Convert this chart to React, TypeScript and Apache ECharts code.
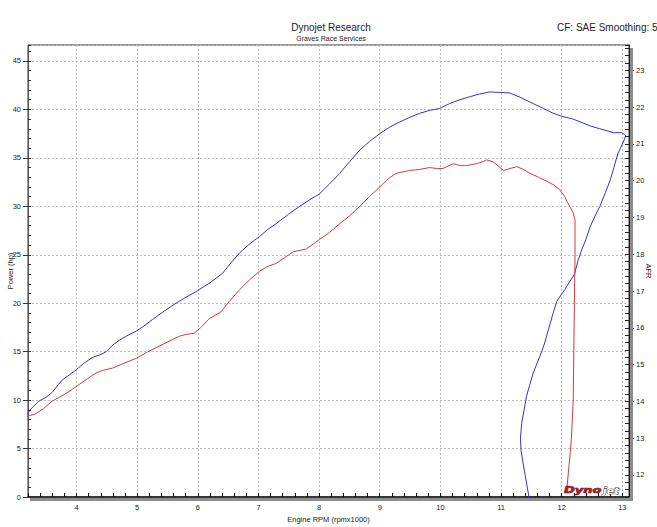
import React, { useEffect, useRef } from "react";
import * as echarts from "echarts";

// ---- Texts ----
const titleText = "Dynojet Research";
const subtitleText = "Graves Race Services";
const cornerText = "CF: SAE Smoothing: 5";
const xAxisName = "Engine RPM (rpmx1000)";
const leftAxisName = "Power (hp)";
const rightAxisName = "AFR";

// ---- Axis ranges ----
const rpmRange = [3.2, 13.11];
const powerRange = [0, 46.65];
const afrRange = [11.4, 23.69];

// ---- Blue run (rpm x1000, hp) ----
const blueRpm = [
  3.18, 3.25, 3.38, 3.5, 3.6, 3.7, 3.77, 3.88, 3.99, 4.12, 4.26, 4.4, 4.49, 4.6, 4.71,
  4.85, 4.98, 5.1, 5.25, 5.45, 5.64, 5.8, 5.97, 6.2, 6.41, 6.55, 6.69, 6.85, 7.02, 7.15,
  7.29, 7.5, 7.68, 7.85, 8.01, 8.17, 8.34, 8.5, 8.67, 8.83, 9.0, 9.17, 9.33, 9.5, 9.66,
  9.82, 9.99, 10.15, 10.32, 10.48, 10.65, 10.81, 11.0, 11.14, 11.3, 11.53, 11.7, 11.86,
  12.0, 12.19, 12.35, 12.47, 12.63, 12.75, 12.85, 12.99, 13.06,
  13.0, 12.93, 12.86, 12.8, 12.72, 12.63, 12.55, 12.47, 12.4, 12.33, 12.27, 12.21, 12.13,
  12.05, 11.92, 11.86, 11.81, 11.76, 11.72, 11.67, 11.6, 11.53, 11.47, 11.42, 11.38,
  11.34, 11.32, 11.33, 11.36, 11.4, 11.46,
];
const blueHp = [
  8.5, 9.1, 9.9, 10.3, 10.8, 11.6, 12.1, 12.6, 13.1, 13.8, 14.4, 14.7, 15.0, 15.7, 16.2,
  16.7, 17.1, 17.6, 18.3, 19.2, 20.0, 20.6, 21.2, 22.1, 23.1, 24.2, 25.2, 26.1, 26.9, 27.6,
  28.2, 29.2, 30.0, 30.7, 31.3, 32.3, 33.4, 34.6, 35.8, 36.7, 37.5, 38.2, 38.7, 39.2, 39.6,
  39.9, 40.1, 40.6, 41.0, 41.3, 41.6, 41.8, 41.75, 41.7, 41.3, 40.6, 40.1, 39.6,
  39.3, 39.0, 38.6, 38.3, 38.0, 37.8, 37.6, 37.6, 37.3,
  36.4, 35.5, 34.0, 32.7, 31.4, 30.0, 29.0, 27.9, 26.6, 25.5, 24.4, 23.0, 22.2,
  21.4, 20.2, 19.0, 17.9, 16.8, 15.9, 15.0, 13.9, 12.8, 11.5, 10.4, 9.0,
  7.6, 6.0, 4.8, 3.6, 2.2, 0.0,
];

// ---- Red run (rpm x1000, hp) ----
const redRpm = [
  3.18, 3.33, 3.45, 3.6, 3.72, 3.83, 3.93, 4.04, 4.18, 4.32, 4.45, 4.59, 4.78, 4.98, 5.15,
  5.31, 5.5, 5.7, 5.82, 5.94, 6.05, 6.19, 6.38, 6.52, 6.69, 6.85, 7.02, 7.15, 7.29, 7.43,
  7.57, 7.79, 7.9, 8.01, 8.17, 8.34, 8.5, 8.67, 8.83, 9.0, 9.15, 9.27, 9.49, 9.65, 9.82,
  9.95, 10.04, 10.21, 10.33, 10.43, 10.59, 10.7, 10.76, 10.87, 11.04, 11.15, 11.26, 11.37,
  11.48, 11.62, 11.75, 11.87, 11.97, 12.05, 12.08, 12.14, 12.19, 12.22, 12.22, 12.21,
  12.2, 12.19, 12.16, 12.14, 12.11, 12.08,
];
const redHp = [
  8.3, 8.6, 9.1, 9.9, 10.3, 10.7, 11.1, 11.6, 12.2, 12.8, 13.1, 13.3, 13.8, 14.3, 14.9,
  15.4, 16.0, 16.6, 16.8, 16.9, 17.5, 18.4, 19.1, 20.2, 21.4, 22.4, 23.3, 23.8, 24.1, 24.7,
  25.3, 25.6, 26.1, 26.6, 27.3, 28.2, 29.0, 30.0, 31.0, 32.0, 32.9, 33.4, 33.7, 33.8, 34.0,
  33.9, 33.9, 34.4, 34.2, 34.2, 34.4, 34.6, 34.8, 34.6, 33.7, 33.9, 34.1, 33.8,
  33.4, 33.0, 32.6, 32.2, 31.7, 31.0, 30.6, 29.9, 29.3, 28.6, 25.0, 20.0,
  15.0, 10.0, 6.0, 4.5, 2.5, 0.5,
];

const FONT = "'Liberation Sans', Arial, sans-serif";
const zip = (xs: number[], ys: number[]) => xs.map((x, i) => [x, ys[i]]);

export default function App() {
  const ref = useRef<HTMLDivElement>(null);

  useEffect(() => {
    if (!ref.current) return;
    const chart = echarts.init(ref.current, null, { renderer: "svg" });

    const splitStyle = { color: "#bdbdbd", type: [2, 2], width: 1 };
    const labelStyle = { fontSize: 7.5, color: "#222", fontFamily: FONT };

    const option: any = {
      animation: false,
      backgroundColor: "#ffffff",
      textStyle: { fontFamily: FONT },
      grid: {
        left: 28,
        right: 28,
        top: 45,
        bottom: 30,
        show: true,
        borderColor: "#333",
        borderWidth: 1,
        backgroundColor: "transparent",
        containLabel: false,
        outerBoundsMode: "none",
      },
      xAxis: [
        {
          type: "value",
          min: rpmRange[0],
          max: rpmRange[1],
          splitNumber: 10,
          name: xAxisName,
          nameLocation: "middle",
          nameGap: 16,
          nameTextStyle: { ...labelStyle },
          axisLine: { show: true, onZero: false, lineStyle: { color: "#111", width: 1.5 } },
          axisTick: { show: true, inside: true, length: 4, lineStyle: { color: "#111" } },
          minorTick: { show: true, splitNumber: 5, length: 4, lineStyle: { color: "#111" } },
          axisLabel: { ...labelStyle, margin: 6, showMinLabel: false, showMaxLabel: false },
          splitLine: { show: true, lineStyle: splitStyle },
        },
      ],
      yAxis: [
        {
          type: "value",
          position: "left",
          min: powerRange[0],
          max: powerRange[1],
          interval: 5,
          axisLine: { show: true, onZero: false, lineStyle: { color: "#555", width: 1 } },
          axisTick: { show: true, inside: false, length: 5, lineStyle: { color: "#333" } },
          axisLabel: { ...labelStyle, margin: 7, showMaxLabel: false },
          splitLine: { show: true, lineStyle: splitStyle },
        },
        {
          type: "value",
          position: "right",
          min: afrRange[0],
          max: afrRange[1],
          splitNumber: 12,
          axisLine: { show: true, onZero: false, lineStyle: { color: "#222", width: 1 } },
          axisTick: { show: true, inside: false, length: 5, lineStyle: { color: "#222" } },
          axisLabel: { ...labelStyle, margin: 7, showMinLabel: false, showMaxLabel: false },
          splitLine: { show: false },
        },
        {
          type: "value",
          position: "left",
          min: powerRange[0],
          max: powerRange[1],
          interval: 5,
          axisLine: { show: false },
          axisTick: { show: true, inside: true, length: 3, lineStyle: { color: "#333" } },
          minorTick: { show: true, splitNumber: 5, length: 3, lineStyle: { color: "#333" } },
          axisLabel: { show: false },
          splitLine: { show: false },
        },
        {
          type: "value",
          position: "right",
          min: afrRange[0],
          max: afrRange[1],
          splitNumber: 12,
          axisLine: { show: false },
          axisTick: { show: true, inside: true, length: 4, lineStyle: { color: "#222" } },
          minorTick: { show: true, splitNumber: 5, length: 4, lineStyle: { color: "#222" } },
          axisLabel: { show: false },
          splitLine: { show: false },
        },
      ],
      series: [
        {
          type: "line",
          name: "Blue run",
          xAxisIndex: 0,
          yAxisIndex: 0,
          data: zip(blueRpm, blueHp),
          showSymbol: false,
          symbol: "none",
          lineStyle: { color: "#3434c4", width: 1 },
          z: 3,
        },
        {
          type: "line",
          name: "Red run",
          xAxisIndex: 0,
          yAxisIndex: 0,
          data: zip(redRpm, redHp),
          showSymbol: false,
          symbol: "none",
          lineStyle: { color: "#d43b3b", width: 1 },
          z: 3,
        },
      ],
      graphic: [
        {
          type: "text",
          x: 331,
          y: 27,
          style: { text: titleText, textAlign: "center", textVerticalAlign: "middle", fontSize: 10, fontFamily: FONT, fill: "#222" },
        },
        {
          type: "text",
          x: 331,
          y: 38,
          style: { text: subtitleText, textAlign: "center", textVerticalAlign: "middle", fontSize: 7, fontFamily: FONT, fill: "#222" },
        },
        {
          type: "text",
          x: 557,
          y: 27,
          style: { text: cornerText, textAlign: "left", textVerticalAlign: "middle", fontSize: 10, fontFamily: FONT, fill: "#222" },
        },
        {
          type: "text",
          x: 10,
          y: 271,
          rotation: Math.PI / 2,
          style: { text: leftAxisName, textAlign: "center", textVerticalAlign: "middle", fontSize: 7.5, fontFamily: FONT, fill: "#222" },
        },
        {
          type: "text",
          x: 648,
          y: 271,
          rotation: -Math.PI / 2,
          style: { text: rightAxisName, textAlign: "center", textVerticalAlign: "middle", fontSize: 7.5, fontFamily: FONT, fill: "#222" },
        },
        {
          type: "rect",
          shape: { x: 30, y: 498, width: 603, height: 3 },
          style: { fill: "#8c8c8c" },
          z: 1,
        },
        {
          type: "rect",
          shape: { x: 630, y: 48, width: 3, height: 453 },
          style: { fill: "#8c8c8c" },
          z: 1,
        },
        {
          type: "text",
          x: 564,
          y: 490.5,
          scaleX: 1.45,
          z: 10,
          style: {
            text: "Dyno",
            textAlign: "left",
            textVerticalAlign: "middle",
            fontSize: 9,
            fontWeight: "bold",
            fontStyle: "italic",
            fontFamily: "'DejaVu Sans', sans-serif",
            fill: "#c0121f",
            stroke: "#222",
            lineWidth: 0.6,
          },
        },
        {
          type: "text",
          x: 603,
          y: 490.5,
          scaleX: 1.2,
          z: 10,
          style: {
            text: "jet",
            textAlign: "left",
            textVerticalAlign: "middle",
            fontSize: 9,
            fontWeight: "bold",
            fontStyle: "italic",
            fontFamily: "'DejaVu Sans', sans-serif",
            fill: "#ffffff",
            stroke: "#222",
            lineWidth: 0.8,
          },
        },
      ],
    };

    chart.setOption(option);
    return () => chart.dispose();
  }, []);

  return (
    <div
      ref={ref}
      style={{ position: "absolute", left: 0, top: 0, width: 657, height: 527, background: "#fff" }}
    />
  );
}
